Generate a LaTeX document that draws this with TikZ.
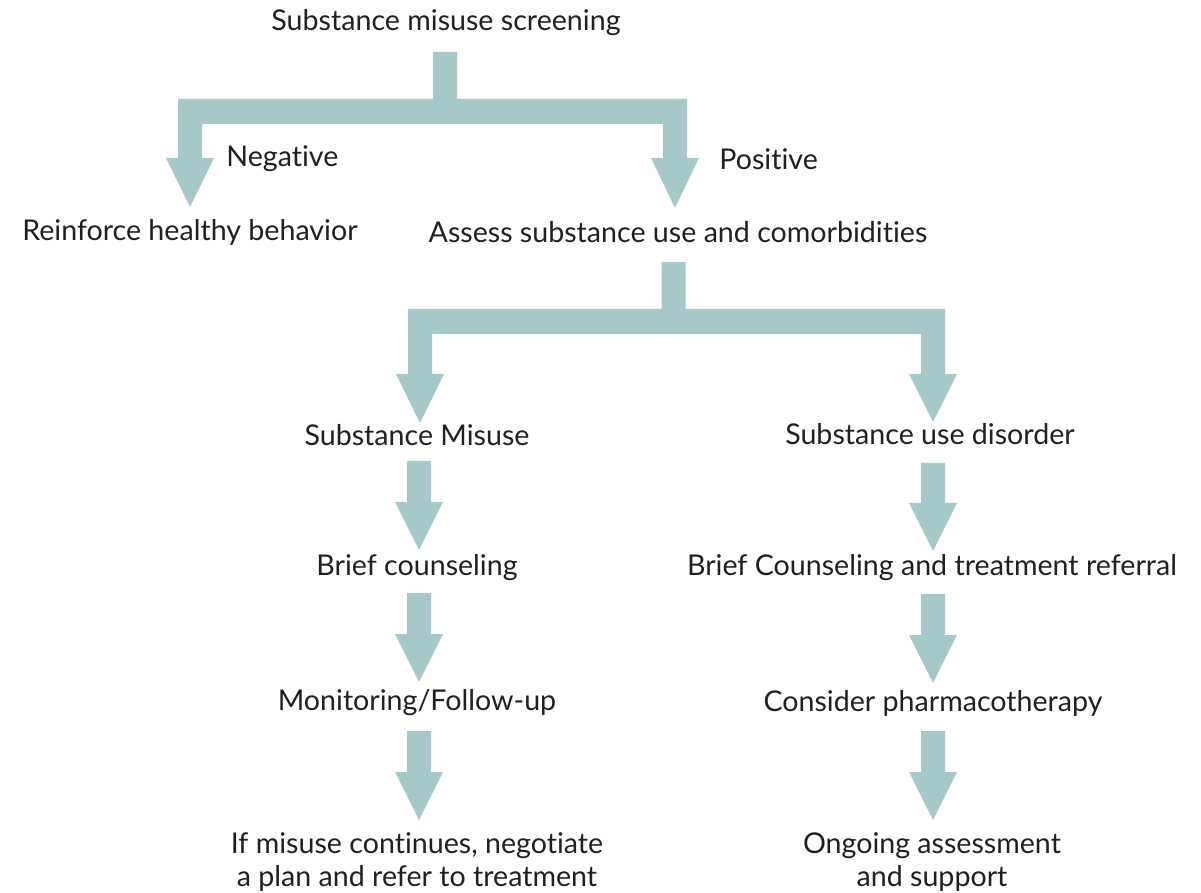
\documentclass[tikz,border=0pt]{standalone}
\usepackage{fontspec}
\setmainfont{Lato}[Ligatures=NoCommon]
\usetikzlibrary{calc}
\definecolor{flowc}{RGB}{167,200,203}
\definecolor{txtc}{RGB}{35,31,32}
\tikzset{
  flow/.style={fill=flowc},
  lbl/.style={inner sep=0pt, text=txtc, font=\fontsize{14.3}{16.5}\selectfont, align=center},
}
% straight fat arrow from #1 (top centre) to #2 (tip)
\newcommand{\fatarr}[2]{%
  \fill[flow] let \p1=(#1), \p2=(#2) in
    (\x1-6pt,\y1) -- (\x1+6pt,\y1) -- (\x1+6pt,\y2+24pt) -- (\x1+12pt,\y2+24pt)
    -- (\x1,\y2) -- (\x1-12pt,\y2+24pt) -- (\x1-6pt,\y2+24pt) -- cycle;}
% branching fat arrow: #1 stem top, #2 left tip, #3 right tip
\newcommand{\fatbranch}[3]{%
  \fill[flow] let \p1=(#1), \p2=(#2), \p3=(#3),
      \n1={\y1-23.5pt}, \n2={\y1-36pt}, \n3={\y2+24.5pt} in
    (\x1-6pt,\y1) -- (\x1+6pt,\y1) -- (\x1+6pt,\n1)
    -- (\x3+6pt,\n1) -- (\x3+6pt,\n3) -- (\x3+12pt,\n3) -- (\x3,\y3)
    -- (\x3-12pt,\n3) -- (\x3-6pt,\n3) -- (\x3-6pt,\n2)
    -- (\x2+6pt,\n2) -- (\x2+6pt,\n3) -- (\x2+12pt,\n3) -- (\x2,\y2)
    -- (\x2-12pt,\n3) -- (\x2-6pt,\n3) -- (\x2-6pt,\n1)
    -- (\x1-6pt,\n1) -- cycle;}
\begin{document}
\begin{tikzpicture}[x=0.5pt,y=-0.5pt]
\useasboundingbox (0,0) rectangle (1201,893);

% texts
\node[lbl] (screen) at (446,23) {Substance misuse screening};
\node[lbl,anchor=west] (neg) at (226,159) {Negative};
\node[lbl,anchor=west] (pos) at (719,159) {Positive};
\node[lbl] (reinf) at (190,232) {Reinforce healthy behavior};
\node[lbl] (assess) at (678,232) {Assess substance use and comorbidities};
\node[lbl] (smis) at (417,435) {Substance Misuse};
\node[lbl] (sud) at (930,434) {Substance use disorder};
\node[lbl] (brief) at (417,568) {Brief counseling};
\node[lbl] (briefr) at (932,568) {Brief Counseling and treatment referral};
\node[lbl] (monit) at (417,703) {Monitoring/Follow-up};
\node[lbl] (consid) at (933,703) {Consider pharmacotherapy};
\node[lbl] (ifmis) at (417,862) {If misuse continues, negotiate\\a plan and refer to treatment};
\node[lbl] (ongo) at (932,862) {Ongoing assessment\\and support};

% connector end points
\coordinate (s1) at (445,52);
\coordinate (t1l) at (190,207);
\coordinate (t1r) at (675,208);
\coordinate (s2) at (673.5,262);
\coordinate (t2l) at (420,423);
\coordinate (t2r) at (933,422);
\coordinate (l1s) at (419,461); \coordinate (l1e) at (419,550);
\coordinate (l2s) at (419,593); \coordinate (l2e) at (419,682);
\coordinate (l3s) at (419,731); \coordinate (l3e) at (419,820);
\coordinate (r1s) at (933,463); \coordinate (r1e) at (933,551);
\coordinate (r2s) at (933,594); \coordinate (r2e) at (933,683);
\coordinate (r3s) at (933,731); \coordinate (r3e) at (933,820);

% connectors
\fatbranch{s1}{t1l}{t1r}
\fatbranch{s2}{t2l}{t2r}
\fatarr{l1s}{l1e}
\fatarr{l2s}{l2e}
\fatarr{l3s}{l3e}
\fatarr{r1s}{r1e}
\fatarr{r2s}{r2e}
\fatarr{r3s}{r3e}
\end{tikzpicture}
\end{document}
